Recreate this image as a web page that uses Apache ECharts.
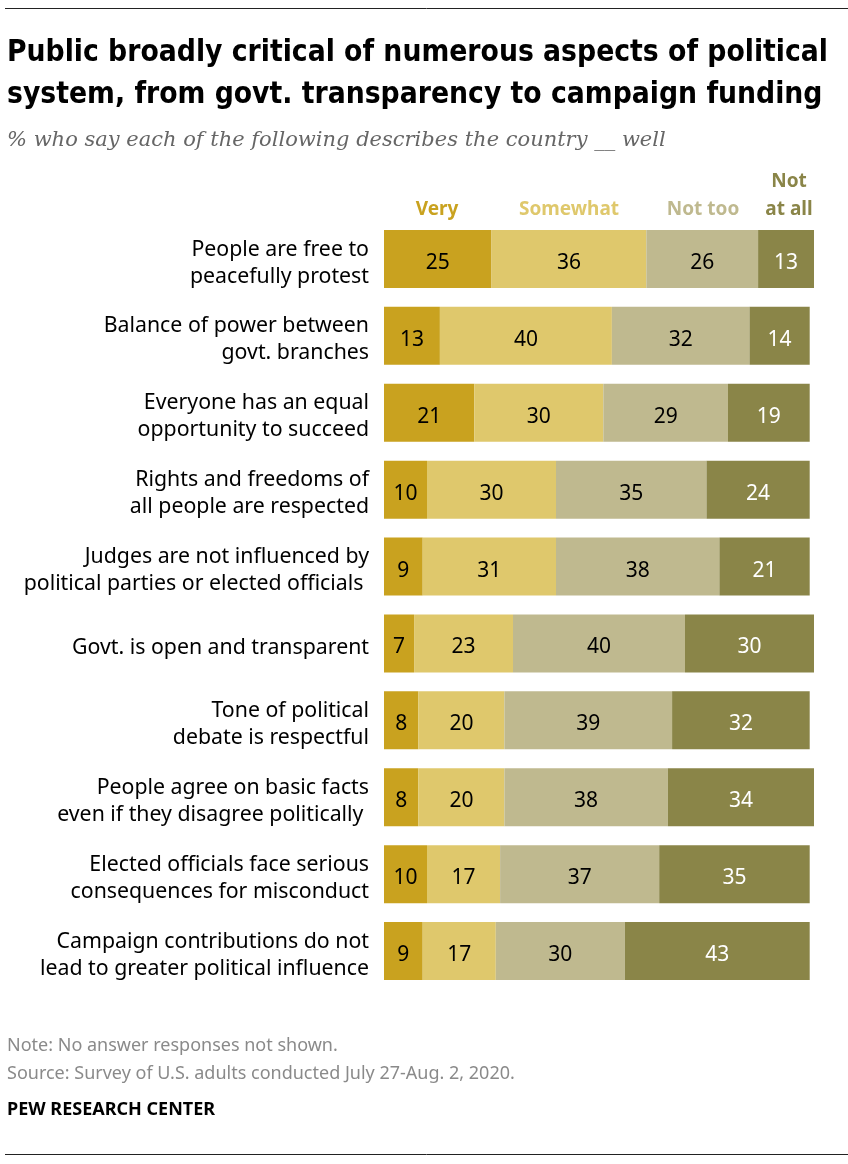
<!DOCTYPE html>
<html><head><meta charset="utf-8">
<script src="https://cdn.jsdelivr.net/npm/echarts@6/dist/echarts.min.js"></script>
<style>html,body{margin:0;padding:0;background:#fff}#c{width:848px;height:1164px}</style>
</head><body><div id="c"></div>
<script>
const categories = [
  "People are free to\npeacefully protest",
  "Balance of power between\ngovt. branches",
  "Everyone has an equal\nopportunity to succeed",
  "Rights and freedoms of\nall people are respected",
  "Judges are not influenced by\npolitical parties or elected officials ",
  "Govt. is open and transparent",
  "Tone of political\ndebate is respectful",
  "People agree on basic facts\neven if they disagree politically ",
  "Elected officials face serious\nconsequences for misconduct",
  "Campaign contributions do not\nlead to greater political influence"
];
const seriesNames = ["Very", "Somewhat", "Not too", "Not at all"];
const very     = [25, 13, 21, 10, 9, 7, 8, 8, 10, 9];
const somewhat = [36, 40, 30, 30, 31, 23, 20, 20, 17, 17];
const notToo   = [26, 32, 29, 35, 38, 40, 39, 38, 37, 30];
const notAtAll = [13, 14, 19, 24, 21, 30, 32, 34, 35, 43];
const colors = ["#c9a21f", "#dfc86c", "#bfb98f", "#8a8548"];
const labelColors = ["#000", "#000", "#000", "#fff"];
const values = [very, somewhat, notToo, notAtAll];

const FONT = "'Noto Sans', 'Liberation Sans', Arial, sans-serif";
const COND = "'DejaVu Sans Condensed', 'Liberation Sans Narrow', 'Liberation Sans', sans-serif";

const chart = echarts.init(document.getElementById('c'), null, {renderer: 'canvas'});
chart.setOption({
  animation: false,
  grid: {left: 384, right: 34, top: 220.5, height: 769, containLabel: false},
  xAxis: {type: 'value', min: 0, max: 100, show: false},
  yAxis: {
    type: 'category', data: categories, inverse: true,
    axisLine: {show: false}, axisTick: {show: false},
    axisLabel: {
      fontFamily: FONT, fontSize: 21.3, lineHeight: 27, color: '#000', margin: 15, align: 'right',
      formatter: v => '{s|}\n' + v.split('\n').map(l => '{t|' + l + '}').join('\n'),
      rich: {
        s: {fontSize: 1, lineHeight: 8},
        t: {fontFamily: FONT, fontSize: 21.3, lineHeight: 27, color: '#000'}
      }
    }
  },
  series: seriesNames.map((n, i) => ({
    name: n, type: 'bar', stack: 'all', data: values[i], barWidth: 58,
    itemStyle: {color: colors[i]},
    label: {show: true, position: 'inside', offset: [0, 4], color: labelColors[i], fontFamily: FONT, fontSize: 21}
  })),
  graphic: [
    {type: 'line', shape: {x1: 5, y1: 8.5, x2: 848, y2: 8.5}, style: {stroke: '#222', lineWidth: 1}},
    {type: 'text', left: 7, top: 32, style: {text: 'Public broadly critical of numerous aspects of political\nsystem, from govt. transparency to campaign funding', font: "bold 29.7px " + COND, lineHeight: 42, fill: '#000'}},
    {type: 'text', left: 7, top: 130, style: {text: '% who say each of the following describes the country __ well', font: "italic 21px 'DejaVu Serif', 'Liberation Serif', serif", fill: '#666'}},
    {type: 'text', x: 437, y: 210, style: {text: 'Very', font: "bold 19px " + FONT, fill: colors[0], align: 'center', verticalAlign: 'middle'}},
    {type: 'text', x: 569, y: 210, style: {text: 'Somewhat', font: "bold 19px " + FONT, fill: colors[1], align: 'center', verticalAlign: 'middle'}},
    {type: 'text', x: 703, y: 210, style: {text: 'Not too', font: "bold 19px " + FONT, fill: colors[2], align: 'center', verticalAlign: 'middle'}},
    {type: 'text', x: 789, y: 196, style: {text: 'Not\nat all', font: "bold 19px " + FONT, lineHeight: 28, fill: colors[3], align: 'center', verticalAlign: 'middle'}},
    {type: 'text', left: 7, top: 1037, style: {text: 'Note: No answer responses not shown.', font: "18px " + FONT, fill: '#8a8a8a'}},
    {type: 'text', left: 7, top: 1065, style: {text: 'Source: Survey of U.S. adults conducted July 27-Aug. 2, 2020.', font: "18px " + FONT, fill: '#8a8a8a'}},
    {type: 'text', left: 7, top: 1101, style: {text: 'PEW RESEARCH CENTER', font: "bold 18px " + FONT, fill: '#000'}},
    {type: 'line', shape: {x1: 5, y1: 1154.5, x2: 848, y2: 1154.5}, style: {stroke: '#222', lineWidth: 1}}
  ]
});
</script></body></html>
